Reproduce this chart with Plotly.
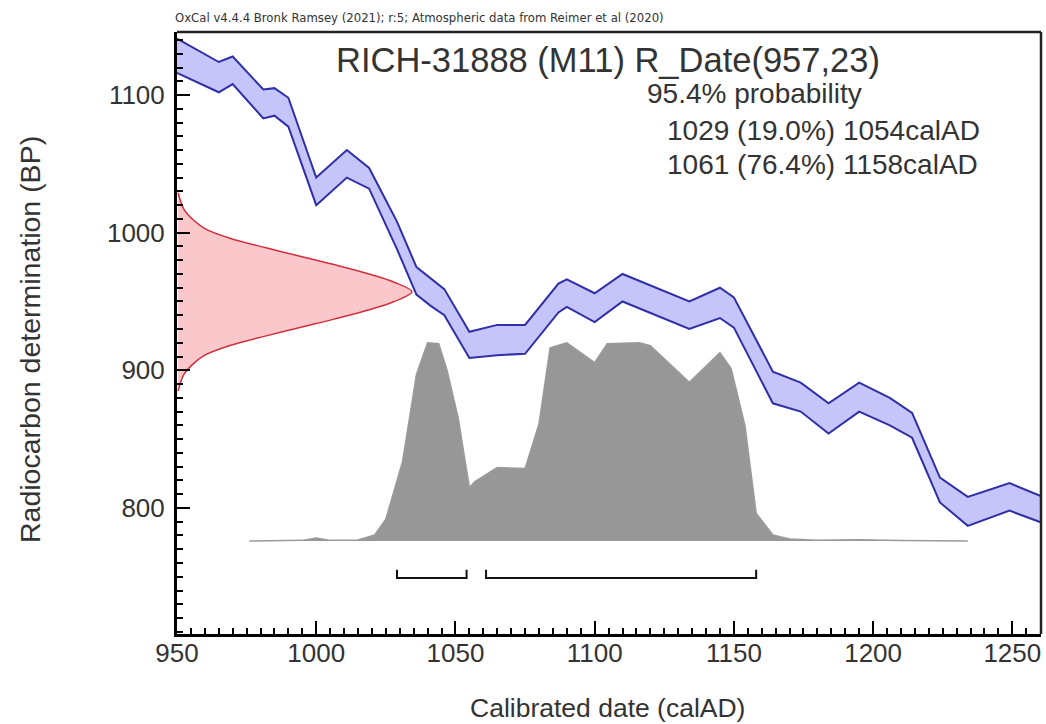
import plotly.graph_objects as go

# ---------------- data ----------------
# calibration curve (IntCal20) band
cal_year = [950, 965, 970, 981, 985, 990, 1000, 1011, 1019, 1029, 1036, 1041, 1046, 1055, 1065,
            1075, 1087, 1090, 1100, 1110, 1134, 1145, 1150, 1164, 1174, 1184, 1195, 1206, 1214,
            1224, 1234, 1249, 1261]
cal_upper = [1141, 1124, 1128, 1104, 1105, 1098, 1040, 1060, 1047, 1008, 975, 967, 959, 928, 933,
             933, 963, 966, 956, 970, 950, 960, 953, 899, 891, 876, 891, 880, 869,
             822, 808, 818, 808]
cal_lower = [1116, 1102, 1108, 1083, 1085, 1077, 1020, 1040, 1032, 988, 955, 947, 940, 909, 911,
             912, 942, 946, 935, 950, 930, 938, 931, 876, 870, 854, 870, 860, 851,
             804, 787, 798, 789]

# radiocarbon measurement distribution (BP value, width in years from the axis)
rc_bp = [885, 897, 905, 911, 918, 925, 932, 937, 944, 950, 957, 964, 970, 977, 982, 989, 996,
         1003, 1009, 1017, 1029]
rc_width = [0.4, 2.5, 6, 10, 19, 32, 46, 56, 69, 78, 84.4, 78, 69, 56, 46, 32, 19, 10, 6, 2.5, 0.4]

# calibrated probability (relative, max = 1)
post_year = [976, 995, 1000, 1005, 1015, 1021, 1025, 1031, 1036, 1040, 1044, 1047, 1051, 1055,
             1057, 1065, 1075, 1080, 1084, 1090, 1100, 1104.5, 1116, 1120, 1134, 1142, 1145,
             1149, 1154, 1158, 1164, 1170, 1180, 1195, 1210, 1234]
post_prob = [0, 0.003, 0.015, 0.003, 0.005, 0.03, 0.11, 0.40, 0.84, 1.0, 0.995, 0.86, 0.62, 0.27,
             0.30, 0.37, 0.365, 0.59, 0.975, 1.0, 0.90, 0.995, 1.0, 0.985, 0.80, 0.91, 0.95,
             0.87, 0.58, 0.14, 0.03, 0.01, 0.003, 0.006, 0.002, 0]

# 95.4% ranges
range_from = [1029, 1061]
range_to = [1054, 1158]

title_text = "RICH-31888 (M11) R_Date(957,23)"
header_text = "OxCal v4.4.4 Bronk Ramsey (2021); r:5; Atmospheric data from Reimer et al (2020)"
prob_lines = ["95.4% probability", "1029 (19.0%) 1054calAD", "1061 (76.4%) 1158calAD"]

# ---------------- layout constants ----------------
W, H = 1046, 724
L, R, T, B = 177, 1041, 32, 634
X0, X1 = 950, 1260.3
Y0, Y1 = 708.4, 1145.8
POST_BASE, POST_SCALE = 776, 144
BR_Y, BR_TICK = 749, 6
FONT = "Liberation Sans, Arial, sans-serif"
TXT = "#333333"


def px(x):
    return (x - L) / (R - L)


def py(y):
    return 1 - (y - T) / (B - T)


fig = go.Figure()

# calibration band
fig.add_trace(go.Scatter(x=cal_year, y=cal_lower, mode="lines",
                         line=dict(color="#2f2fa8", width=2), hoverinfo="skip"))
fig.add_trace(go.Scatter(x=cal_year, y=cal_upper, mode="lines", fill="tonexty",
                         fillcolor="rgba(150,150,245,0.55)",
                         line=dict(color="#2f2fa8", width=2), hoverinfo="skip"))

# radiocarbon measurement (red)
fig.add_trace(go.Scatter(x=[X0 + w for w in rc_width], y=rc_bp, mode="lines",
                         line=dict(color="#d0303c", width=1.5, shape="spline"),
                         fill="toself", fillcolor="rgba(245,130,140,0.45)", hoverinfo="skip"))

# calibrated distribution (grey)
fig.add_trace(go.Scatter(x=post_year, y=[POST_BASE + p * POST_SCALE for p in post_prob],
                         mode="lines", line=dict(color="#9a9a9a", width=1.5),
                         fill="toself", fillcolor="#979797", hoverinfo="skip"))

# range brackets
for a, b in zip(range_from, range_to):
    fig.add_trace(go.Scatter(x=[a, a, b, b], y=[BR_Y + BR_TICK, BR_Y, BR_Y, BR_Y + BR_TICK],
                             mode="lines", line=dict(color="#111111", width=2), hoverinfo="skip"))

axis_common = dict(showgrid=False, zeroline=False, showline=True, linecolor="#000000",
                   linewidth=3, ticks="inside", ticklen=13, tickwidth=2, tickcolor="#000000",
                   tickfont=dict(family=FONT, size=26, color=TXT))

fig.update_xaxes(range=[X0, X1], tick0=950, dtick=50, ticklabelstandoff=-6,
                 minor=dict(dtick=5, ticks="inside", ticklen=6, tickwidth=1.5, tickcolor="#000000"),
                 **axis_common)
fig.update_yaxes(range=[Y0, Y1], tick0=800, dtick=100, ticklabelstandoff=4,
                 minor=dict(dtick=10, ticks="inside", ticklen=6, tickwidth=1.5, tickcolor="#000000"),
                 **axis_common)

annotations = [
    dict(text=header_text, x=px(173), y=py(18), xanchor="left", yanchor="middle",
         font=dict(family="Liberation Sans Narrow, Arial Narrow, DejaVu Sans Condensed, sans-serif",
                   size=13, color="#333333")),
    dict(text=title_text, x=px(608), y=py(60), xanchor="center", yanchor="middle",
         font=dict(family=FONT, size=34.5, color=TXT)),
    dict(text=prob_lines[0], x=px(645), y=py(93), xanchor="left", yanchor="middle",
         font=dict(family=FONT, size=28, color=TXT)),
    dict(text=prob_lines[1], x=px(665), y=py(130), xanchor="left", yanchor="middle",
         font=dict(family=FONT, size=28, color=TXT)),
    dict(text=prob_lines[2], x=px(665), y=py(164), xanchor="left", yanchor="middle",
         font=dict(family=FONT, size=28, color=TXT)),
    dict(text="Radiocarbon determination (BP)", x=px(30), y=py(340), textangle=-90,
         xanchor="center", yanchor="middle", font=dict(family=FONT, size=28.5, color=TXT)),
    dict(text="Calibrated date (calAD)", x=px(607), y=py(708), xanchor="center", yanchor="middle",
         font=dict(family=FONT, size=26.5, color=TXT)),
]
for a in annotations:
    a.update(xref="paper", yref="paper", showarrow=False)

fig.update_layout(
    width=W, height=H,
    margin=dict(l=L, r=W - R, t=T, b=H - B, pad=0),
    paper_bgcolor="white", plot_bgcolor="white",
    showlegend=False,
    annotations=annotations,
    shapes=[
        dict(type="line", xref="paper", yref="paper", x0=0, x1=1, y0=1, y1=1,
             line=dict(color="#222222", width=2.5)),
        dict(type="line", xref="paper", yref="paper", x0=1, x1=1, y0=0, y1=1,
             line=dict(color="#222222", width=2.5)),
    ],
)

fig.write_html("out.html", config={"displayModeBar": False},
               post_script="document.body.style.margin='0';document.body.style.overflow='hidden';")
